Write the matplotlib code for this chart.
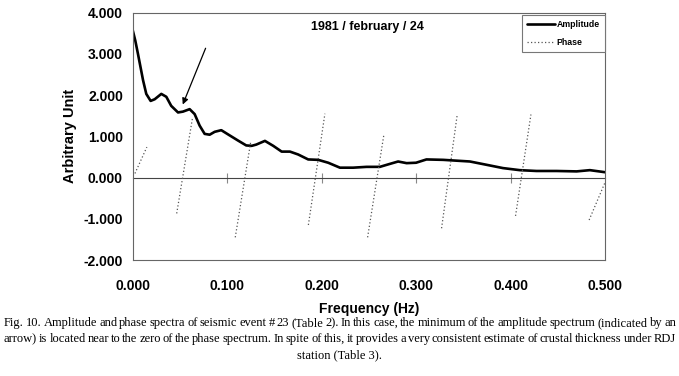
import matplotlib
matplotlib.use("Agg")
import matplotlib.pyplot as plt
import numpy as np

# amplitude spectrum
freq = [0, 0.0028, 0.0056, 0.011, 0.0144, 0.019, 0.0233, 0.0303, 0.0356, 0.0408, 0.048,
        0.0532, 0.0603, 0.0656, 0.0709, 0.0762, 0.0815, 0.0868, 0.0938, 0.1008, 0.1114,
        0.1202, 0.126, 0.1308, 0.140, 0.1488, 0.1577, 0.1665, 0.1752, 0.1858, 0.1964,
        0.207, 0.2194, 0.2334, 0.2476, 0.2617, 0.2705, 0.281, 0.290, 0.300, 0.311,
        0.3287, 0.357, 0.3746, 0.392, 0.4098, 0.4275, 0.4487, 0.470, 0.484, 0.500]
amplitude = [3.58, 3.32, 3.0, 2.36, 2.03, 1.86, 1.90, 2.03, 1.96, 1.74, 1.58,
             1.60, 1.66, 1.54, 1.26, 1.06, 1.04, 1.11, 1.15, 1.05, 0.90,
             0.78, 0.77, 0.80, 0.89, 0.77, 0.63, 0.63, 0.56, 0.44, 0.43,
             0.36, 0.24, 0.24, 0.26, 0.26, 0.32, 0.39, 0.35, 0.36, 0.44,
             0.43, 0.39, 0.31, 0.23, 0.18, 0.16, 0.16, 0.15, 0.18, 0.13]

# phase spectrum, wrapped segments (start, end)
phase_f = [[0.0024, 0.015], [0.0466, 0.0635], [0.1086, 0.1249], [0.186, 0.2035],
           [0.2487, 0.266], [0.327, 0.3436], [0.4053, 0.4216], [0.4832, 0.500]]
phase_v = [[0.10, 0.74], [-0.87, 1.47], [-1.45, 0.86], [-1.15, 1.55],
           [-1.45, 1.05], [-1.23, 1.53], [-0.93, 1.53], [-1.03, -0.12]]

xticks = [0.0, 0.1, 0.2, 0.3, 0.4, 0.5]
yticks = [-2, -1, 0, 1, 2, 3, 4]

caption = [
    "Fig. 10. Amplitude and phase spectra of seismic event # 23 (Table 2). In this case, the minimum of the amplitude spectrum (indicated by an",
    "arrow) is located near to the zero of the phase spectrum. In spite of this, it provides a very consistent estimate of crustal thickness under RDJ",
    "station (Table 3).",
]

plt.rcParams['font.family'] = ['Liberation Sans', 'DejaVu Sans']

fig = plt.figure(figsize=(6.79, 3.76), dpi=100)
ax = fig.add_axes([0.1954, 0.3085, 0.6956, 0.6577])

ax.plot(freq, amplitude, color='black', lw=1.9, label='Amplitude',
        solid_joinstyle='round', solid_capstyle='round')
pf = []
pv = []
for f, v in zip(phase_f, phase_v):
    pf += f + [np.nan]
    pv += v + [np.nan]
ax.plot(pf, pv, color='#555555', lw=0.9, ls=(0, (1, 1.8)), label='Phase')

ax.set_xlim(0, 0.5)
ax.set_ylim(-2, 4)
ax.set_xticks(xticks)
ax.set_xticklabels([f"{t:.3f}" for t in xticks])
ax.set_yticks(yticks)
ax.set_yticklabels([f"{t:.3f}" for t in yticks])
ax.tick_params(axis='x', length=0, pad=14, labelsize=10)
ax.tick_params(axis='y', length=0, pad=7, labelsize=10)
for lab in ax.get_xticklabels() + ax.get_yticklabels():
    lab.set_fontweight('bold')
for s in ax.spines.values():
    s.set_color('#666666')
    s.set_linewidth(0.8)

# zero axis with tick marks
sec = ax.secondary_xaxis(1 / 3)
sec.set_xticks(xticks[1:-1])
sec.tick_params(axis='x', direction='inout', length=7, width=0.8, color='#888888', labelbottom=False, labeltop=False)
sec.spines['bottom'].set_color('#444444')
sec.spines['bottom'].set_linewidth(0.8)

ax.set_xlabel('Frequency (Hz)', fontsize=10, fontweight='bold', labelpad=6)
ax.set_ylabel('Arbitrary Unit', fontsize=10.5, fontweight='bold', labelpad=5)

ax.text(0.249, 3.65, '1981 / february / 24', ha='center', va='center', fontsize=9, fontweight='bold')

ax.annotate('', xy=(0.0519, 1.71), xytext=(0.0783, 3.20),
            arrowprops=dict(arrowstyle='-|>', color='black', lw=0.9, mutation_scale=9))

leg = ax.legend(loc='upper right', bbox_to_anchor=(1.0, 0.991), borderaxespad=0,
                fancybox=False, edgecolor='#777777', framealpha=1,
                prop={'size': 6.3, 'weight': 'bold'}, handlelength=3.2,
                handletextpad=0.2, labelspacing=1.0, borderpad=0.6)
leg.get_frame().set_linewidth(0.8)

# caption, first two lines justified
fig.canvas.draw()
renderer = fig.canvas.get_renderer()
W = fig.bbox.width
left_px, right_px = 4, 676
ys = [1 - 323 / 376, 1 - 339 / 376, 1 - 355 / 376]
cap_kw = dict(family='Liberation Serif', fontsize=9.0, va='center')
for i, line in enumerate(caption):
    if i < 2:
        words = line.split(' ')
        widths = []
        for w in words:
            t = fig.text(0, 0, w, **cap_kw)
            widths.append(t.get_window_extent(renderer).width)
            t.remove()
        gap = (right_px - left_px - sum(widths)) / (len(words) - 1)
        x = left_px
        for w, wd in zip(words, widths):
            fig.text(x / W, ys[i], w, ha='left', **cap_kw)
            x += wd + gap
    else:
        fig.text(0.5, ys[i], line, ha='center', **cap_kw)

fig.savefig('out.png', dpi=100, facecolor='white')
